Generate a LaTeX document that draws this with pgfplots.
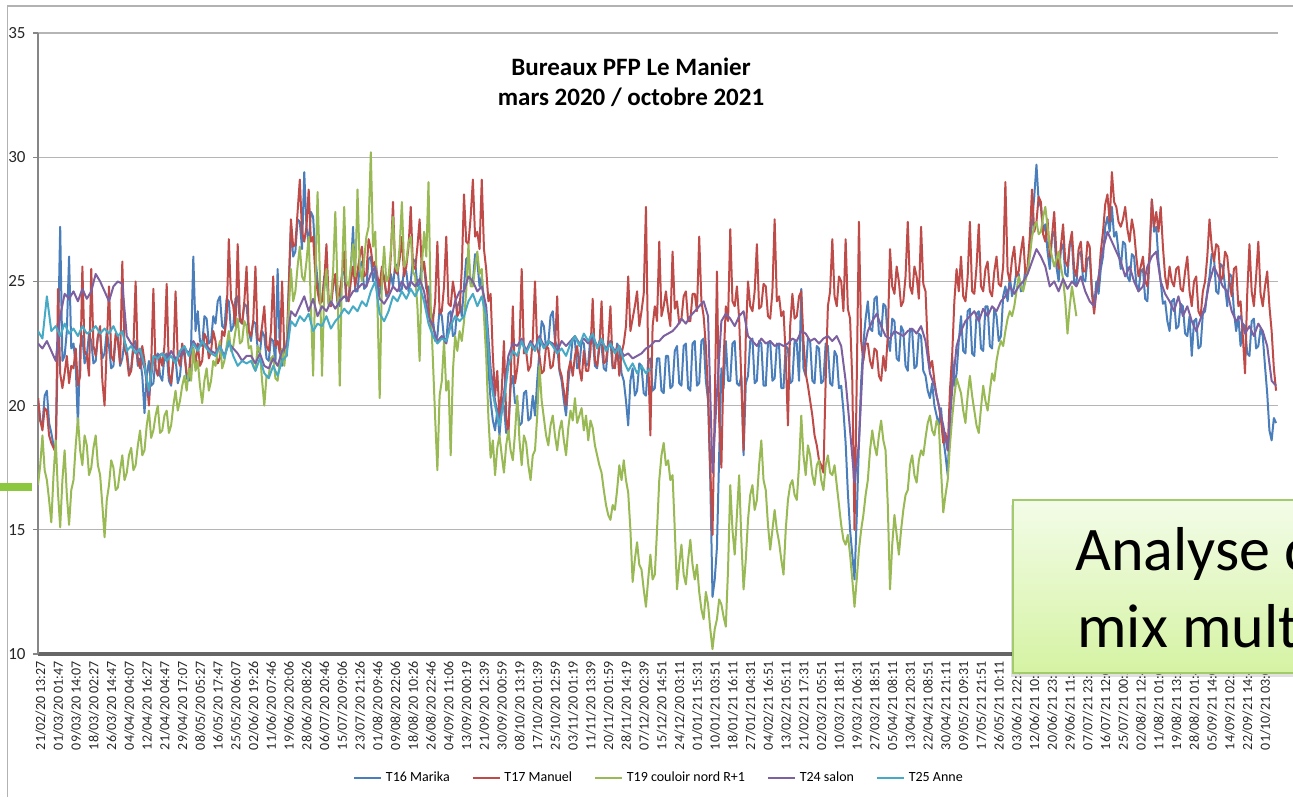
\documentclass[border=0pt]{standalone}
\usepackage{pgfplots}
\pgfplotsset{compat=1.18}
\usepackage{fontspec}
\setmainfont{Carlito}
\definecolor{cT16}{HTML}{4A7EBB}
\definecolor{cT17}{HTML}{BE4B48}
\definecolor{cT19}{HTML}{98B954}
\definecolor{cT24}{HTML}{7D60A0}
\definecolor{cT25}{HTML}{46AAC5}
\definecolor{gridc}{HTML}{B5B5B5}
\definecolor{axisc}{HTML}{868686}
\definecolor{boxtop}{HTML}{F3FCE8}
\definecolor{boxbot}{HTML}{D5F3A3}
\definecolor{boxborder}{HTML}{A3CB6B}
\definecolor{barg}{HTML}{8CC83F}
\begin{document}
\begin{tikzpicture}
\path[use as bounding box] (0,0) rectangle (646.5pt,-398.5pt);
\draw[gray!60, line width=0.6pt] (3.75pt,-398.5pt) -- (3.75pt,-3pt) -- (646.5pt,-3pt);
\begin{axis}[
  at={(19pt,-327pt)}, anchor=south west,
  scale only axis, width=620pt, height=310.5pt,
  xmin=-0.14, xmax=69.72, ymin=10, ymax=35,
  ytick={10,15,...,35},
  xtick={0,...,69},
  xticklabels={21/02/20 13:27,01/03/20 01:47,09/03/20 14:07,18/03/20 02:27,26/03/20 14:47,04/04/20 04:07,12/04/20 16:27,21/04/20 04:47,29/04/20 17:07,08/05/20 05:27,16/05/20 17:47,25/05/20 06:07,02/06/20 19:26,11/06/20 07:46,19/06/20 20:06,28/06/20 08:26,06/07/20 20:46,15/07/20 09:06,23/07/20 21:26,01/08/20 09:46,09/08/20 22:06,18/08/20 10:26,26/08/20 22:46,04/09/20 11:06,13/09/20 00:19,21/09/20 12:39,30/09/20 00:59,08/10/20 13:19,17/10/20 01:39,25/10/20 12:59,03/11/20 01:19,11/11/20 13:39,20/11/20 01:59,28/11/20 14:19,07/12/20 02:39,15/12/20 14:51,24/12/20 03:11,01/01/21 15:31,10/01/21 03:51,18/01/21 16:11,27/01/21 04:31,04/02/21 16:51,13/02/21 05:11,21/02/21 17:31,02/03/21 05:51,10/03/21 18:11,19/03/21 06:31,27/03/21 18:51,05/04/21 08:11,13/04/21 20:31,22/04/21 08:51,30/04/21 21:11,09/05/21 09:31,17/05/21 21:51,26/05/21 10:11,03/06/21 22:31,12/06/21 10:51,20/06/21 23:11,29/06/21 11:31,07/07/21 23:51,16/07/21 12:03,25/07/21 00:23,02/08/21 12:43,11/08/21 01:03,19/08/21 13:23,28/08/21 01:43,05/09/21 14:03,14/09/21 02:23,22/09/21 14:43,01/10/21 03:03},
  axis lines*=left,
  axis line style={-},
  x axis line style={draw=gray!80!black, line width=2pt},
  y axis line style={draw=axisc, line width=0.6pt},
  ymajorgrids, grid style={gridc, line width=0.6pt},
  tick align=outside, major tick length=2.5pt,
  xtick style={draw=none},
  ytick style={draw=axisc, line width=0.6pt},
  /pgf/number format/assume math mode=true,
  ticklabel style={text=black!85},
  xticklabel style={font=\fontsize{7}{8}\selectfont, rotate=90, anchor=east, inner sep=1pt},
  yticklabel style={font=\fontsize{8.5}{9}\selectfont, anchor=east, inner sep=0pt, xshift=-3.5pt},
  legend style={at={(0.5016,-0.1997)}, anchor=center, draw=none, fill=none,
    font=\fontsize{7}{8}\selectfont, legend columns=5,
    /tikz/every even column/.append style={column sep=9pt}},
  legend image code/.code={\draw[#1, line width=0.85pt] (0pt,0pt) -- (13.5pt,0pt);},
  every axis plot/.append style={line width=1.0pt, line join=round, mark=none},
]
\addplot[cT16] table[header=false, row sep=\\, x expr=\coordindex*0.125-0.14, y index=0] {
20.3\\ 19.4\\ 19.2\\ 20.4\\ 20.6\\ 19.3\\ 18.9\\ 18.4\\
18.2\\ 22.5\\ 27.2\\ 21.8\\ 22.0\\ 23.0\\ 26.0\\ 22.3\\
22.5\\ 21.6\\ 19.2\\ 22.4\\ 22.8\\ 21.7\\ 22.0\\ 22.9\\
22.6\\ 21.7\\ 21.8\\ 22.8\\ 22.9\\ 21.9\\ 22.1\\ 23.0\\
22.4\\ 21.5\\ 21.6\\ 22.7\\ 22.8\\ 21.6\\ 21.9\\ 22.6\\
22.3\\ 21.4\\ 21.5\\ 22.5\\ 22.6\\ 21.6\\ 21.9\\ 21.2\\
19.7\\ 21.2\\ 21.8\\ 20.8\\ 20.9\\ 21.9\\ 22.1\\ 21.2\\
21.0\\ 22.0\\ 22.1\\ 21.0\\ 20.8\\ 21.8\\ 21.9\\ 20.9\\
21.2\\ 22.2\\ 22.3\\ 21.1\\ 21.0\\ 22.4\\ 26.0\\ 23.0\\
23.8\\ 22.6\\ 22.4\\ 23.6\\ 23.5\\ 22.5\\ 22.6\\ 23.6\\
23.3\\ 24.2\\ 24.4\\ 23.2\\ 23.1\\ 24.3\\ 24.2\\ 23.0\\
23.2\\ 24.3\\ 24.4\\ 23.4\\ 23.3\\ 24.1\\ 24.0\\ 23.0\\
22.6\\ 23.4\\ 23.3\\ 22.3\\ 22.1\\ 23.0\\ 22.8\\ 21.9\\
21.8\\ 22.7\\ 22.6\\ 21.7\\ 25.5\\ 22.2\\ 21.6\\ 22.5\\
22.0\\ 24.8\\ 27.2\\ 26.0\\ 26.2\\ 27.5\\ 27.4\\ 26.3\\
29.4\\ 27.2\\ 26.5\\ 27.8\\ 27.6\\ 26.0\\ 25.0\\ 24.3\\
24.2\\ 25.2\\ 25.3\\ 24.1\\ 24.0\\ 25.1\\ 25.0\\ 24.1\\
24.0\\ 25.3\\ 25.4\\ 24.2\\ 24.3\\ 25.5\\ 27.2\\ 24.6\\
24.6\\ 25.6\\ 25.8\\ 24.7\\ 24.8\\ 25.9\\ 26.0\\ 25.0\\
25.5\\ 24.4\\ 24.5\\ 25.4\\ 25.2\\ 24.4\\ 24.6\\ 25.3\\
24.8\\ 25.7\\ 25.6\\ 24.6\\ 24.7\\ 25.5\\ 25.4\\ 24.6\\
25.0\\ 25.9\\ 25.8\\ 24.8\\ 24.9\\ 25.8\\ 25.6\\ 24.7\\
24.8\\ 23.8\\ 23.5\\ 22.6\\ 22.8\\ 23.9\\ 23.6\\ 22.7\\
22.6\\ 23.7\\ 23.8\\ 22.8\\ 22.9\\ 24.0\\ 24.2\\ 23.6\\
24.8\\ 25.9\\ 26.0\\ 24.9\\ 25.0\\ 26.1\\ 25.8\\ 24.8\\
25.2\\ 24.2\\ 23.0\\ 21.5\\ 20.2\\ 19.4\\ 19.0\\ 19.8\\
18.8\\ 19.9\\ 20.0\\ 18.9\\ 19.1\\ 20.8\\ 21.2\\ 20.1\\
20.2\\ 19.2\\ 19.3\\ 20.5\\ 20.6\\ 19.4\\ 19.5\\ 20.4\\
19.6\\ 21.0\\ 22.2\\ 23.4\\ 23.2\\ 22.3\\ 22.5\\ 23.6\\
23.8\\ 22.6\\ 22.4\\ 21.4\\ 21.0\\ 20.2\\ 19.6\\ 20.9\\
21.8\\ 22.7\\ 22.6\\ 21.5\\ 21.6\\ 22.6\\ 22.5\\ 21.6\\
21.7\\ 22.8\\ 22.8\\ 21.6\\ 21.5\\ 22.6\\ 22.4\\ 21.5\\
21.4\\ 22.5\\ 22.6\\ 21.5\\ 21.6\\ 22.5\\ 22.3\\ 21.3\\
21.0\\ 20.2\\ 19.2\\ 21.0\\ 21.5\\ 20.4\\ 20.6\\ 21.7\\
21.6\\ 20.5\\ 20.4\\ 21.8\\ 21.9\\ 20.6\\ 20.7\\ 21.9\\
21.9\\ 20.6\\ 20.5\\ 22.0\\ 22.0\\ 20.7\\ 20.8\\ 22.2\\
22.4\\ 20.9\\ 20.8\\ 22.4\\ 22.5\\ 20.7\\ 20.6\\ 22.5\\
22.6\\ 20.8\\ 20.9\\ 22.6\\ 22.7\\ 21.0\\ 20.2\\ 17.0\\
12.3\\ 13.0\\ 14.3\\ 18.0\\ 21.5\\ 20.7\\ 22.6\\ 21.0\\
21.0\\ 22.5\\ 22.6\\ 20.9\\ 20.8\\ 21.2\\ 18.0\\ 20.9\\
21.2\\ 22.6\\ 22.7\\ 20.9\\ 21.0\\ 22.6\\ 22.5\\ 20.8\\
20.8\\ 22.5\\ 22.6\\ 21.0\\ 21.1\\ 22.5\\ 22.4\\ 20.7\\
20.7\\ 22.4\\ 22.3\\ 20.9\\ 21.0\\ 22.6\\ 22.5\\ 21.0\\
24.7\\ 21.5\\ 21.2\\ 22.7\\ 22.6\\ 21.0\\ 20.9\\ 22.4\\
22.3\\ 20.9\\ 21.0\\ 22.5\\ 22.4\\ 20.9\\ 20.8\\ 22.2\\
22.0\\ 20.7\\ 20.8\\ 19.8\\ 18.5\\ 16.5\\ 15.0\\ 14.0\\
13.0\\ 15.5\\ 18.5\\ 21.0\\ 22.5\\ 23.5\\ 24.2\\ 23.1\\
23.0\\ 24.3\\ 24.4\\ 22.9\\ 22.8\\ 24.1\\ 24.0\\ 22.7\\
22.2\\ 23.5\\ 23.4\\ 21.9\\ 21.8\\ 23.2\\ 23.0\\ 21.6\\
21.4\\ 23.1\\ 23.0\\ 21.5\\ 21.6\\ 22.9\\ 22.8\\ 21.4\\
21.2\\ 20.6\\ 20.3\\ 20.9\\ 20.0\\ 19.6\\ 19.2\\ 19.9\\
18.7\\ 18.0\\ 17.2\\ 19.5\\ 22.0\\ 20.8\\ 21.3\\ 22.6\\
23.6\\ 22.2\\ 22.1\\ 23.8\\ 23.9\\ 22.1\\ 22.0\\ 23.7\\
23.8\\ 22.3\\ 22.2\\ 24.0\\ 24.0\\ 22.4\\ 22.3\\ 23.9\\
23.6\\ 22.6\\ 22.8\\ 24.4\\ 24.8\\ 24.2\\ 25.2\\ 24.4\\
24.8\\ 25.4\\ 25.3\\ 24.6\\ 24.7\\ 25.5\\ 25.4\\ 26.2\\
27.4\\ 28.4\\ 29.7\\ 28.2\\ 28.0\\ 27.0\\ 27.3\\ 26.2\\
25.5\\ 26.8\\ 27.0\\ 25.6\\ 25.0\\ 26.3\\ 26.5\\ 25.3\\
25.2\\ 26.5\\ 26.6\\ 25.0\\ 24.9\\ 26.1\\ 26.2\\ 25.1\\
25.0\\ 25.9\\ 26.0\\ 24.7\\ 24.0\\ 25.0\\ 24.5\\ 25.5\\
26.0\\ 27.2\\ 27.6\\ 27.0\\ 28.0\\ 26.8\\ 27.0\\ 26.2\\
25.5\\ 26.6\\ 26.5\\ 25.2\\ 25.0\\ 26.1\\ 26.0\\ 24.9\\
24.6\\ 25.4\\ 25.5\\ 24.3\\ 24.2\\ 26.0\\ 28.3\\ 27.0\\
27.2\\ 25.8\\ 25.0\\ 24.1\\ 24.2\\ 23.4\\ 23.0\\ 24.2\\
24.3\\ 23.1\\ 23.2\\ 24.1\\ 24.0\\ 22.9\\ 22.8\\ 23.6\\
22.0\\ 23.4\\ 23.5\\ 22.3\\ 22.4\\ 23.7\\ 23.8\\ 24.6\\
25.2\\ 26.1\\ 26.0\\ 24.6\\ 24.5\\ 25.7\\ 25.6\\ 24.8\\
24.0\\ 25.3\\ 25.2\\ 23.8\\ 23.0\\ 23.6\\ 22.4\\ 23.3\\
23.2\\ 22.1\\ 22.0\\ 23.4\\ 23.5\\ 22.3\\ 22.4\\ 23.1\\
22.8\\ 21.6\\ 20.5\\ 19.0\\ 18.6\\ 19.5\\ 19.3\\
};
\addlegendentry{T16 Marika}
\addplot[cT17] table[header=false, row sep=\\, x expr=\coordindex*0.125-0.14, y index=0] {
20.3\\ 19.4\\ 19.0\\ 19.9\\ 19.8\\ 18.8\\ 18.5\\ 18.3\\
18.1\\ 24.7\\ 21.3\\ 20.7\\ 21.3\\ 22.0\\ 20.9\\ 21.6\\
21.5\\ 22.3\\ 20.8\\ 21.2\\ 25.6\\ 22.2\\ 22.0\\ 21.2\\
25.5\\ 22.4\\ 22.0\\ 22.8\\ 23.2\\ 21.0\\ 20.0\\ 22.4\\
24.8\\ 22.0\\ 21.8\\ 22.9\\ 22.6\\ 21.7\\ 25.8\\ 22.3\\
22.0\\ 21.2\\ 21.4\\ 22.3\\ 25.0\\ 21.8\\ 21.5\\ 22.4\\
21.8\\ 21.0\\ 20.0\\ 21.6\\ 24.7\\ 21.5\\ 21.2\\ 22.0\\
21.6\\ 22.4\\ 24.9\\ 21.3\\ 20.9\\ 21.8\\ 24.6\\ 21.9\\
21.6\\ 22.5\\ 22.0\\ 21.3\\ 21.2\\ 22.4\\ 22.3\\ 21.7\\
22.5\\ 21.6\\ 21.8\\ 22.9\\ 22.7\\ 21.9\\ 22.2\\ 23.0\\
22.6\\ 21.7\\ 21.9\\ 23.0\\ 22.8\\ 23.5\\ 26.7\\ 24.3\\
24.0\\ 23.2\\ 26.5\\ 23.5\\ 23.3\\ 24.2\\ 25.6\\ 23.0\\
22.8\\ 23.4\\ 25.6\\ 22.7\\ 22.6\\ 23.2\\ 24.0\\ 22.4\\
22.2\\ 23.0\\ 25.2\\ 22.4\\ 22.6\\ 22.1\\ 25.0\\ 22.3\\
22.0\\ 24.6\\ 27.5\\ 26.4\\ 26.5\\ 27.8\\ 29.1\\ 27.0\\
26.6\\ 27.2\\ 28.7\\ 26.6\\ 26.8\\ 25.3\\ 24.6\\ 24.1\\
24.2\\ 25.0\\ 26.5\\ 24.3\\ 24.0\\ 24.8\\ 25.3\\ 24.2\\
24.6\\ 25.2\\ 26.2\\ 24.4\\ 24.2\\ 25.0\\ 25.6\\ 24.8\\
25.4\\ 26.0\\ 26.4\\ 25.2\\ 25.3\\ 26.7\\ 26.3\\ 25.6\\
25.8\\ 25.2\\ 24.8\\ 25.6\\ 25.1\\ 24.5\\ 24.6\\ 26.0\\
28.2\\ 25.4\\ 25.3\\ 25.9\\ 26.8\\ 25.2\\ 25.6\\ 26.4\\
28.0\\ 25.6\\ 25.5\\ 26.4\\ 27.5\\ 25.4\\ 25.8\\ 25.0\\
24.0\\ 23.2\\ 23.4\\ 24.2\\ 26.6\\ 23.7\\ 23.8\\ 24.8\\
26.8\\ 24.1\\ 24.0\\ 25.0\\ 24.4\\ 23.6\\ 23.8\\ 25.5\\
28.5\\ 26.6\\ 26.5\\ 27.6\\ 29.1\\ 26.8\\ 27.0\\ 26.3\\
29.1\\ 26.3\\ 25.5\\ 24.2\\ 24.5\\ 22.0\\ 20.4\\ 21.4\\
19.5\\ 20.6\\ 22.6\\ 19.6\\ 18.8\\ 21.0\\ 24.0\\ 20.9\\
21.5\\ 22.4\\ 25.5\\ 22.1\\ 22.2\\ 21.4\\ 21.6\\ 22.7\\
25.0\\ 22.3\\ 22.0\\ 21.3\\ 21.4\\ 22.4\\ 22.3\\ 21.5\\
21.6\\ 22.3\\ 24.4\\ 21.5\\ 21.2\\ 20.6\\ 20.0\\ 21.4\\
21.8\\ 21.2\\ 22.0\\ 22.4\\ 21.5\\ 21.0\\ 22.2\\ 21.4\\
21.4\\ 22.2\\ 24.3\\ 21.8\\ 21.6\\ 22.3\\ 24.2\\ 21.7\\
21.8\\ 22.6\\ 24.0\\ 21.6\\ 21.5\\ 22.4\\ 21.2\\ 22.1\\
22.5\\ 23.2\\ 25.2\\ 23.0\\ 23.5\\ 24.0\\ 24.6\\ 23.2\\
23.8\\ 24.5\\ 28.0\\ 22.0\\ 18.8\\ 23.2\\ 24.0\\ 23.4\\
26.6\\ 23.6\\ 24.0\\ 24.6\\ 23.8\\ 23.2\\ 26.2\\ 23.9\\
24.2\\ 23.3\\ 23.5\\ 24.4\\ 24.6\\ 23.4\\ 23.4\\ 24.5\\
24.5\\ 23.8\\ 26.8\\ 24.2\\ 23.6\\ 22.4\\ 20.5\\ 17.5\\
14.8\\ 20.0\\ 25.4\\ 19.4\\ 17.5\\ 21.8\\ 24.0\\ 23.4\\
27.1\\ 24.2\\ 24.0\\ 24.8\\ 23.5\\ 21.0\\ 18.2\\ 22.8\\
25.0\\ 24.0\\ 23.8\\ 24.6\\ 26.5\\ 23.9\\ 24.0\\ 24.9\\
24.8\\ 23.6\\ 23.5\\ 24.6\\ 27.5\\ 24.2\\ 24.4\\ 23.6\\
23.8\\ 22.0\\ 19.2\\ 23.2\\ 24.5\\ 23.5\\ 23.6\\ 24.4\\
24.6\\ 22.6\\ 21.3\\ 20.8\\ 20.2\\ 19.6\\ 18.8\\ 18.4\\
17.8\\ 17.6\\ 17.3\\ 21.0\\ 24.0\\ 24.6\\ 26.7\\ 24.4\\
24.0\\ 25.2\\ 25.0\\ 23.8\\ 26.7\\ 23.9\\ 23.5\\ 21.0\\
15.0\\ 21.0\\ 27.4\\ 22.6\\ 21.8\\ 22.5\\ 22.5\\ 21.8\\
21.5\\ 22.3\\ 22.2\\ 21.2\\ 21.0\\ 22.0\\ 21.4\\ 22.8\\
26.3\\ 24.8\\ 24.5\\ 25.6\\ 25.0\\ 24.0\\ 24.2\\ 25.2\\
27.4\\ 24.8\\ 24.5\\ 25.6\\ 25.2\\ 24.3\\ 27.2\\ 24.9\\
24.6\\ 22.4\\ 21.5\\ 21.8\\ 21.0\\ 20.4\\ 20.0\\ 19.4\\
18.5\\ 18.9\\ 18.2\\ 20.6\\ 22.0\\ 24.2\\ 25.5\\ 24.6\\
26.0\\ 24.4\\ 24.2\\ 25.2\\ 27.4\\ 24.6\\ 24.5\\ 25.6\\
27.3\\ 24.8\\ 24.6\\ 25.5\\ 25.8\\ 24.6\\ 24.4\\ 25.4\\
26.0\\ 24.9\\ 24.8\\ 25.6\\ 29.0\\ 25.4\\ 25.0\\ 25.9\\
26.4\\ 25.2\\ 25.4\\ 26.2\\ 26.8\\ 25.3\\ 25.6\\ 26.8\\
28.7\\ 27.0\\ 27.4\\ 28.4\\ 28.2\\ 26.9\\ 26.6\\ 27.5\\
26.0\\ 26.8\\ 27.8\\ 26.1\\ 25.5\\ 26.4\\ 27.3\\ 25.8\\
25.6\\ 26.5\\ 27.0\\ 25.5\\ 25.2\\ 26.3\\ 26.6\\ 25.4\\
25.4\\ 26.6\\ 26.4\\ 24.5\\ 23.7\\ 24.6\\ 25.0\\ 26.2\\
27.0\\ 28.1\\ 28.5\\ 27.4\\ 29.4\\ 28.2\\ 28.0\\ 27.4\\
27.2\\ 27.5\\ 28.0\\ 27.1\\ 26.6\\ 27.5\\ 27.0\\ 26.0\\
25.2\\ 25.6\\ 26.0\\ 25.0\\ 24.8\\ 26.2\\ 28.3\\ 27.2\\
27.8\\ 27.0\\ 28.0\\ 26.4\\ 25.2\\ 24.7\\ 25.6\\ 25.0\\
24.8\\ 25.5\\ 25.6\\ 24.7\\ 24.6\\ 25.4\\ 26.0\\ 24.6\\
24.0\\ 25.0\\ 25.2\\ 23.8\\ 23.6\\ 24.6\\ 25.0\\ 26.0\\
27.5\\ 26.4\\ 25.8\\ 26.5\\ 26.4\\ 25.0\\ 25.2\\ 26.2\\
26.0\\ 25.0\\ 24.4\\ 25.5\\ 25.6\\ 24.0\\ 24.2\\ 22.8\\
21.3\\ 24.5\\ 26.5\\ 24.6\\ 24.0\\ 25.2\\ 26.6\\ 24.5\\
24.0\\ 24.8\\ 25.4\\ 24.0\\ 23.0\\ 21.5\\ 20.6\\
};
\addlegendentry{T17 Manuel}
\addplot[cT19] table[header=false, row sep=\\, x expr=\coordindex*0.125-0.14, y index=0] {
16.8\\ 17.6\\ 18.8\\ 17.4\\ 17.0\\ 16.2\\ 15.3\\ 17.2\\
18.6\\ 16.5\\ 15.1\\ 17.0\\ 18.2\\ 16.4\\ 15.2\\ 16.6\\
17.0\\ 18.4\\ 19.5\\ 18.2\\ 17.6\\ 18.8\\ 18.4\\ 17.2\\
17.5\\ 18.3\\ 18.8\\ 17.6\\ 17.2\\ 16.0\\ 14.7\\ 16.2\\
16.8\\ 17.8\\ 17.5\\ 16.6\\ 16.7\\ 17.4\\ 18.0\\ 17.0\\
17.3\\ 18.0\\ 18.3\\ 17.4\\ 17.6\\ 18.4\\ 19.0\\ 18.0\\
18.2\\ 19.2\\ 19.8\\ 18.7\\ 19.0\\ 19.6\\ 20.0\\ 18.9\\
19.0\\ 19.6\\ 19.8\\ 18.9\\ 19.2\\ 20.0\\ 20.6\\ 19.8\\
20.2\\ 20.8\\ 21.2\\ 20.6\\ 21.5\\ 21.0\\ 22.3\\ 21.4\\
21.8\\ 20.8\\ 20.1\\ 21.0\\ 21.5\\ 20.6\\ 21.0\\ 21.8\\
21.6\\ 22.2\\ 22.6\\ 21.5\\ 21.8\\ 22.4\\ 23.0\\ 22.2\\
22.4\\ 23.0\\ 23.5\\ 22.5\\ 22.6\\ 23.4\\ 23.2\\ 22.3\\
22.4\\ 21.6\\ 21.4\\ 22.4\\ 22.2\\ 21.0\\ 20.0\\ 21.2\\
21.2\\ 21.9\\ 22.0\\ 21.1\\ 21.0\\ 21.8\\ 22.3\\ 21.6\\
22.5\\ 23.8\\ 25.5\\ 24.2\\ 24.6\\ 25.6\\ 26.4\\ 25.2\\
25.0\\ 25.8\\ 26.8\\ 24.0\\ 21.2\\ 25.0\\ 28.6\\ 25.4\\
21.2\\ 24.6\\ 25.5\\ 24.0\\ 24.2\\ 25.4\\ 27.8\\ 24.8\\
20.8\\ 25.2\\ 28.0\\ 25.0\\ 24.8\\ 25.6\\ 26.5\\ 25.2\\
28.7\\ 25.6\\ 25.0\\ 25.9\\ 26.8\\ 27.2\\ 30.2\\ 26.4\\
27.0\\ 24.0\\ 20.3\\ 25.0\\ 26.4\\ 25.0\\ 25.2\\ 26.2\\
27.6\\ 25.6\\ 25.4\\ 26.4\\ 28.2\\ 25.6\\ 25.8\\ 26.6\\
26.8\\ 25.4\\ 25.2\\ 24.0\\ 21.8\\ 25.6\\ 27.0\\ 26.0\\
29.0\\ 24.0\\ 21.8\\ 19.5\\ 17.4\\ 20.4\\ 21.0\\ 22.6\\
20.6\\ 21.0\\ 18.0\\ 21.4\\ 22.8\\ 22.2\\ 23.0\\ 22.6\\
23.4\\ 24.6\\ 26.5\\ 24.8\\ 24.8\\ 25.6\\ 26.2\\ 25.3\\
25.5\\ 23.6\\ 22.0\\ 19.5\\ 17.9\\ 18.6\\ 17.2\\ 18.3\\
18.8\\ 18.0\\ 17.3\\ 18.4\\ 19.0\\ 18.2\\ 17.8\\ 18.9\\
20.4\\ 18.6\\ 17.6\\ 18.8\\ 18.5\\ 17.6\\ 17.0\\ 18.0\\
18.2\\ 19.6\\ 21.6\\ 20.2\\ 19.5\\ 18.8\\ 18.4\\ 19.2\\
19.6\\ 18.8\\ 18.2\\ 19.0\\ 19.4\\ 18.6\\ 18.0\\ 19.1\\
19.8\\ 19.4\\ 20.3\\ 19.3\\ 19.6\\ 19.9\\ 19.0\\ 19.6\\
18.6\\ 19.4\\ 19.1\\ 18.4\\ 18.0\\ 17.6\\ 17.3\\ 16.6\\
16.0\\ 15.6\\ 15.4\\ 16.0\\ 15.8\\ 16.6\\ 17.6\\ 17.0\\
17.8\\ 17.0\\ 16.5\\ 15.0\\ 12.9\\ 13.8\\ 14.5\\ 13.6\\
13.4\\ 12.6\\ 11.9\\ 13.0\\ 14.0\\ 13.0\\ 13.2\\ 15.0\\
17.0\\ 18.0\\ 18.5\\ 17.6\\ 17.8\\ 17.0\\ 17.2\\ 15.0\\
12.6\\ 13.6\\ 14.4\\ 13.2\\ 12.8\\ 13.8\\ 14.6\\ 13.6\\
13.0\\ 13.6\\ 12.5\\ 11.8\\ 11.4\\ 12.5\\ 12.0\\ 11.0\\
10.2\\ 11.0\\ 11.4\\ 12.2\\ 12.0\\ 11.5\\ 11.1\\ 13.4\\
16.8\\ 15.0\\ 14.0\\ 15.6\\ 17.2\\ 14.6\\ 12.6\\ 13.8\\
15.4\\ 16.4\\ 16.8\\ 15.8\\ 16.2\\ 17.6\\ 18.6\\ 17.0\\
16.6\\ 15.2\\ 14.2\\ 15.0\\ 15.8\\ 15.0\\ 14.5\\ 13.8\\
13.2\\ 15.0\\ 16.2\\ 16.8\\ 17.0\\ 16.4\\ 16.2\\ 17.6\\
19.6\\ 18.0\\ 17.2\\ 18.4\\ 18.0\\ 17.2\\ 16.8\\ 17.6\\
17.8\\ 17.0\\ 16.6\\ 17.6\\ 18.0\\ 17.3\\ 17.2\\ 17.6\\
16.8\\ 16.0\\ 15.2\\ 14.6\\ 14.4\\ 14.8\\ 14.0\\ 13.0\\
11.9\\ 13.0\\ 14.2\\ 15.0\\ 15.6\\ 16.4\\ 17.0\\ 18.2\\
19.0\\ 18.4\\ 18.0\\ 18.8\\ 19.4\\ 18.6\\ 18.2\\ 16.0\\
12.6\\ 14.4\\ 15.6\\ 14.8\\ 14.0\\ 15.0\\ 15.8\\ 16.4\\
16.6\\ 17.6\\ 18.0\\ 17.2\\ 16.9\\ 17.8\\ 18.2\\ 18.0\\
18.7\\ 19.3\\ 19.6\\ 19.0\\ 18.8\\ 19.4\\ 19.2\\ 17.4\\
15.7\\ 16.4\\ 17.0\\ 18.4\\ 19.5\\ 20.4\\ 21.1\\ 20.8\\
20.5\\ 19.8\\ 19.3\\ 20.4\\ 21.2\\ 20.4\\ 19.8\\ 19.2\\
18.9\\ 19.9\\ 20.8\\ 20.2\\ 19.8\\ 20.6\\ 21.3\\ 21.0\\
21.8\\ 22.3\\ 22.6\\ 22.4\\ 23.0\\ 23.5\\ 23.8\\ 23.6\\
24.0\\ 24.6\\ 25.2\\ 24.8\\ 24.6\\ 25.0\\ 25.4\\ 26.0\\
26.8\\ 27.2\\ 27.4\\ 26.9\\ 27.0\\ 27.6\\ 28.0\\ 27.2\\
26.4\\ 26.0\\ 25.6\\ 25.9\\ 26.2\\ 25.6\\ 25.1\\ 24.2\\
22.9\\ 24.0\\ 24.8\\ 24.2\\ 23.6\\
};
\addlegendentry{T19 couloir nord R+1}
\addplot[cT24] table[header=false, row sep=\\, x expr=\coordindex*0.25-0.14, y index=0] {
22.5\\ 22.3\\ 22.6\\ 22.2\\
21.8\\ 23.6\\ 24.5\\ 24.3\\
24.6\\ 24.2\\ 24.7\\ 24.3\\
24.6\\ 25.3\\ 25.0\\ 24.6\\
24.2\\ 24.8\\ 25.0\\ 24.9\\
22.8\\ 22.5\\ 22.3\\ 22.1\\
21.5\\ 20.4\\ 21.9\\ 22.0\\
22.1\\ 21.8\\ 22.2\\ 21.9\\
22.0\\ 22.3\\ 22.1\\ 22.6\\
22.3\\ 22.6\\ 22.4\\ 22.2\\
22.1\\ 22.4\\ 22.0\\ 22.5\\
22.3\\ 22.1\\ 21.8\\ 22.0\\
22.0\\ 21.7\\ 22.1\\ 21.6\\
21.5\\ 21.9\\ 21.6\\ 22.2\\
22.4\\ 23.8\\ 23.6\\ 24.0\\
24.4\\ 23.8\\ 24.3\\ 23.6\\
24.0\\ 23.8\\ 24.2\\ 23.9\\
24.2\\ 24.4\\ 24.3\\ 24.6\\
24.7\\ 24.9\\ 24.8\\ 25.3\\
25.6\\ 24.3\\ 24.1\\ 24.4\\
24.8\\ 24.6\\ 25.0\\ 24.7\\
25.0\\ 24.8\\ 25.1\\ 24.6\\
23.6\\ 23.2\\ 22.6\\ 22.8\\
22.5\\ 23.4\\ 24.2\\ 24.6\\
24.6\\ 25.2\\ 25.0\\ 24.6\\
24.8\\ 24.0\\ 21.5\\ 20.2\\
19.4\\ 20.5\\ 22.0\\ 22.5\\
22.4\\ 22.7\\ 22.2\\ 22.6\\
22.3\\ 22.8\\ 22.4\\ 22.6\\
22.5\\ 22.2\\ 22.6\\ 22.4\\
22.6\\ 22.8\\ 22.5\\ 22.7\\
22.5\\ 22.8\\ 22.4\\ 22.6\\
22.3\\ 22.5\\ 22.2\\ 22.4\\
22.0\\ 22.1\\ 21.9\\ 22.0\\
22.1\\ 22.3\\ 22.4\\ 22.6\\
22.6\\ 22.8\\ 22.9\\ 23.0\\
23.2\\ 23.5\\ 23.3\\ 23.6\\
23.8\\ 24.0\\ 24.2\\ 23.6\\
17.3\\ 20.5\\ 23.4\\ 23.7\\
23.5\\ 23.2\\ 23.6\\ 23.8\\
22.8\\ 22.6\\ 22.4\\ 22.7\\
22.5\\ 22.6\\ 22.4\\ 22.5\\
22.4\\ 22.5\\ 22.7\\ 22.6\\
23.0\\ 22.9\\ 22.6\\ 22.7\\
22.5\\ 22.7\\ 22.8\\ 22.6\\
22.8\\ 22.4\\ 21.0\\ 19.0\\
16.9\\ 18.5\\ 22.2\\ 23.0\\
23.4\\ 23.7\\ 23.2\\ 22.8\\
22.7\\ 23.0\\ 22.9\\ 22.8\\
23.0\\ 23.1\\ 22.9\\ 23.2\\
22.6\\ 21.3\\ 20.8\\ 20.0\\
19.2\\ 18.2\\ 20.6\\ 22.4\\
23.0\\ 23.4\\ 23.6\\ 23.8\\
23.4\\ 23.9\\ 23.6\\ 24.0\\
23.8\\ 24.2\\ 24.4\\ 24.8\\
24.5\\ 24.8\\ 25.0\\ 25.3\\
25.8\\ 26.3\\ 26.0\\ 25.6\\
24.8\\ 25.0\\ 24.6\\ 25.1\\
24.7\\ 25.0\\ 24.8\\ 25.2\\
24.6\\ 24.2\\ 24.0\\ 25.2\\
26.3\\ 27.0\\ 26.6\\ 26.2\\
25.8\\ 25.2\\ 25.6\\ 25.0\\
24.6\\ 24.8\\ 25.6\\ 26.0\\
26.2\\ 25.0\\ 24.5\\ 24.2\\
23.8\\ 24.4\\ 23.6\\ 24.0\\
23.4\\ 23.0\\ 23.5\\ 24.0\\
25.0\\ 25.6\\ 25.2\\ 24.8\\
24.6\\ 23.8\\ 23.4\\ 23.6\\
22.9\\ 23.2\\ 22.8\\ 23.3\\
23.0\\ 22.4\\ 21.0\\ 20.8\\
};
\addlegendentry{T24 salon}
\addplot[cT25] table[header=false, row sep=\\, x expr=\coordindex*0.25-0.14, y index=0] {
23.0\\ 22.7\\ 24.4\\ 23.0\\
23.2\\ 22.8\\ 23.3\\ 22.9\\
23.1\\ 22.8\\ 23.2\\ 22.9\\
23.0\\ 23.2\\ 22.9\\ 23.1\\
22.9\\ 23.2\\ 22.8\\ 23.0\\
22.2\\ 22.4\\ 22.1\\ 22.3\\
21.6\\ 20.6\\ 22.0\\ 21.9\\
22.1\\ 21.8\\ 22.0\\ 21.7\\
22.2\\ 22.4\\ 22.0\\ 22.5\\
22.2\\ 22.6\\ 22.3\\ 22.1\\
22.0\\ 22.4\\ 21.9\\ 22.6\\
22.0\\ 21.6\\ 21.8\\ 21.7\\
21.8\\ 21.4\\ 21.9\\ 21.3\\
21.1\\ 21.6\\ 21.2\\ 21.8\\
22.0\\ 23.4\\ 23.2\\ 23.6\\
23.4\\ 23.7\\ 23.0\\ 23.3\\
23.2\\ 23.6\\ 23.1\\ 23.4\\
23.6\\ 23.9\\ 23.7\\ 24.0\\
23.8\\ 24.2\\ 24.0\\ 24.6\\
25.0\\ 23.7\\ 23.4\\ 23.8\\
24.4\\ 24.2\\ 24.6\\ 24.3\\
24.7\\ 24.4\\ 24.8\\ 24.2\\
23.3\\ 22.8\\ 22.5\\ 22.7\\
22.6\\ 23.2\\ 23.6\\ 23.4\\
23.6\\ 24.2\\ 24.5\\ 24.0\\
24.4\\ 23.6\\ 21.0\\ 20.0\\
19.2\\ 20.2\\ 21.6\\ 22.2\\
22.0\\ 22.6\\ 22.1\\ 22.5\\
22.2\\ 22.7\\ 22.3\\ 22.6\\
22.4\\ 22.1\\ 22.3\\ 22.0\\
22.5\\ 22.8\\ 22.4\\ 22.9\\
22.6\\ 22.9\\ 22.3\\ 22.7\\
22.2\\ 22.5\\ 22.1\\ 22.4\\
21.8\\ 21.4\\ 21.7\\ 21.3\\
21.6\\ 21.3\\ 21.5\\
};
\addlegendentry{T25 Anne}
\end{axis}
\fill[barg] (0,-241.5pt) rectangle (16pt,-245.5pt);
\fill[black, opacity=0.12] (505.5pt,-252.5pt) rectangle (660pt,-338.5pt);
\shadedraw[top color=boxtop, bottom color=boxbot, draw=boxborder, line width=0.8pt] (506.5pt,-250pt) rectangle (660pt,-336.5pt);
\node[anchor=base west, inner sep=0pt, font=\fontsize{31}{38}\selectfont] at (537.5pt,-285pt) {Analyse de};
\node[anchor=base west, inner sep=0pt, font=\fontsize{31}{38}\selectfont] at (538.5pt,-323.5pt) {mix multi};
\node[font=\bfseries\fontsize{12.5}{15}\selectfont, align=center] at (315.5pt,-41pt) {Bureaux PFP Le Manier\\mars 2020 / octobre 2021};
\end{tikzpicture}
\end{document}
